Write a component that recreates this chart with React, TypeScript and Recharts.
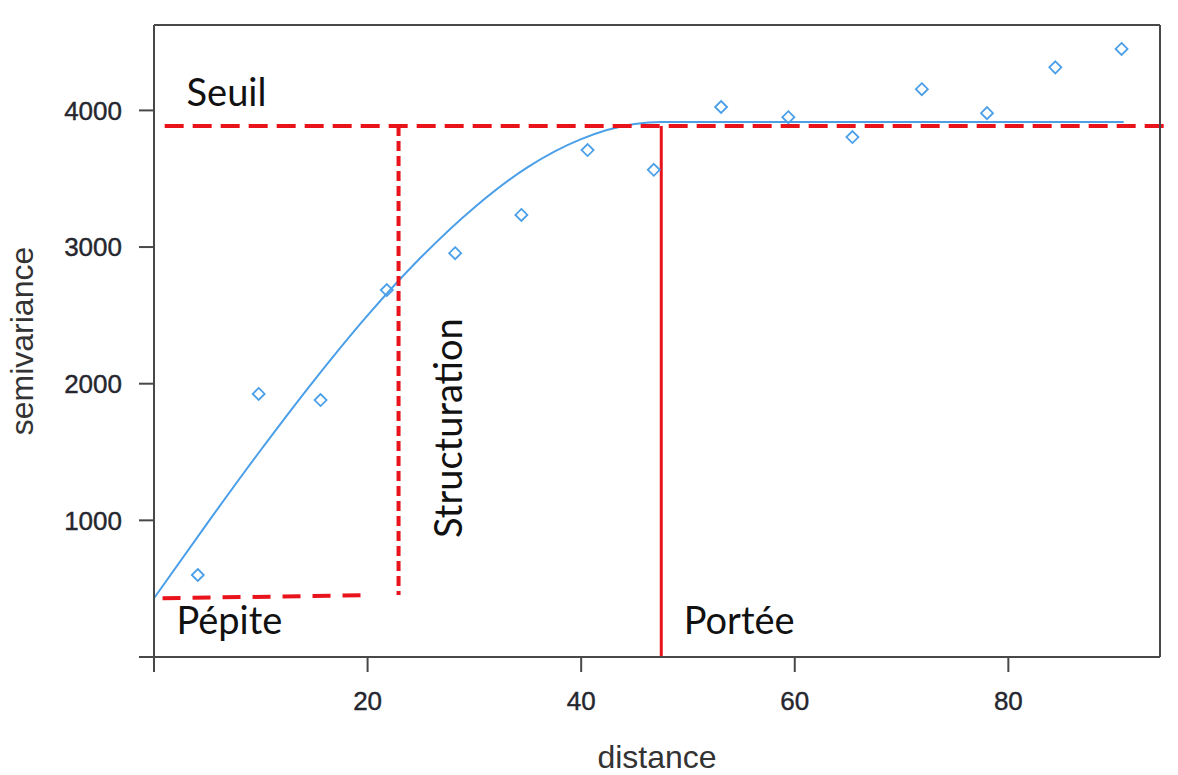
import React from 'react';
import { ComposedChart, Line, Scatter, XAxis, YAxis, ReferenceLine, ReferenceDot } from 'recharts';

// empirical semivariogram (diamonds)
const distances = [4.1, 9.8, 15.6, 21.8, 28.2, 34.4, 40.6, 46.8, 53.1, 59.4, 65.4, 71.9, 78.0, 84.4, 90.6];
const semivariances = [600, 1925, 1880, 2685, 2955, 3235, 3710, 3565, 4025, 3950, 3805, 4155, 3980, 4315, 4450];

// fitted model curve
const modelDistances = [0, 5, 10, 15, 20, 25, 30, 35, 40, 45, 47.5, 90.8];
const modelValues = [430, 980, 1515, 2025, 2500, 2925, 3290, 3585, 3790, 3900, 3915, 3915];

const xTicks = [0, 20, 40, 60, 80];
const yTicks = [0, 1000, 2000, 3000, 4000];

// annotation levels
const sill = 3885;
const nuggetStart = 430;
const nuggetEnd = 452;
const range = 47.5;
const structX = 22.9;

const annotations = [
  { text: 'Seuil', h: 3.05, v: 4030, rotate: false },
  { text: 'Pépite', h: 2.1, v: 170, rotate: false },
  { text: 'Portée', h: 49.6, v: 170, rotate: false },
  { text: 'Structuration', h: 28.8, v: 1675, rotate: true },
];

const points = distances.map((h, i) => ({ h, v: semivariances[i] }));
const curve = modelDistances.map((h, i) => ({ h, v: modelValues[i] }));

const BLUE = '#4a9fe8';
const RED = '#e8131b';
const AXIS = '#484848';
const tickStyle = {
  fontSize: 26,
  fill: '#26262e',
  stroke: '#26262e',
  strokeWidth: 0.4,
  fontFamily: '"Liberation Sans", Arial, sans-serif',
};

const Diamond = (props: any) => {
  const { cx, cy } = props;
  const r = 6;
  return (
    <path
      d={`M${cx},${cy - r}L${cx + r},${cy}L${cx},${cy + r}L${cx - r},${cy}Z`}
      fill="none"
      stroke={BLUE}
      strokeWidth={1.8}
    />
  );
};

const noZero = (v: number) => (v === 0 ? '' : String(v));

export default function App() {
  return (
    <div style={{ position: 'absolute', left: 0, top: 0, background: '#fff' }}>
      <ComposedChart width={1178} height={775} margin={{ top: 0, right: 0, bottom: 0, left: 0 }}>
        <XAxis
          xAxisId="b"
          type="number"
          dataKey="h"
          domain={[0, 94.2]}
          ticks={xTicks}
          tickFormatter={noZero}
          height={118}
          tickSize={15}
          tickMargin={20}
          tick={tickStyle}
          stroke={AXIS}
          strokeWidth={2}
          label={(p: any) => {
            const vb = p.viewBox;
            return (
              <text
                x={vb.x + vb.width / 2}
                y={vb.y + 111}
                textAnchor="middle"
                fontSize={32}
                fill="#333"
                fontFamily='"Liberation Sans", Arial, sans-serif'
              >
                distance
              </text>
            );
          }}
        />
        <XAxis
          xAxisId="t"
          orientation="top"
          type="number"
          dataKey="h"
          domain={[0, 94.2]}
          ticks={xTicks}
          height={25}
          tickSize={15}
          tick={false}
          stroke={AXIS}
          strokeWidth={2}
        />
        <YAxis
          yAxisId="l"
          type="number"
          domain={[0, 4625]}
          ticks={yTicks}
          tickFormatter={noZero}
          width={154}
          tickSize={15}
          tickMargin={17}
          tick={tickStyle}
          stroke={AXIS}
          strokeWidth={2}
          label={(p: any) => {
            const vb = p.viewBox;
            const x = 33;
            const y = vb.y + vb.height / 2;
            return (
              <text
                x={x}
                y={y}
                transform={`rotate(-90 ${x} ${y})`}
                textAnchor="middle"
                fontSize={32}
                fill="#333"
                fontFamily='"Liberation Sans", Arial, sans-serif'
              >
                semivariance
              </text>
            );
          }}
        />
        <YAxis
          yAxisId="r"
          orientation="right"
          type="number"
          domain={[0, 4625]}
          ticks={yTicks}
          width={18}
          tickSize={15}
          tick={false}
          stroke={AXIS}
          strokeWidth={2}
        />

        <Line
          xAxisId="b"
          yAxisId="l"
          data={curve}
          dataKey="v"
          type="monotone"
          stroke={BLUE}
          strokeWidth={2}
          dot={false}
          activeDot={false}
          isAnimationActive={false}
        />
        <Scatter
          xAxisId="b"
          yAxisId="l"
          data={points}
          dataKey="v"
          shape={Diamond}
          isAnimationActive={false}
        />

        <ReferenceLine
          xAxisId="b"
          yAxisId="l"
          segment={[{ x: 1.0, y: sill }, { x: 95.3, y: sill }]}
          stroke={RED}
          strokeWidth={4}
          strokeDasharray="19 9"
          ifOverflow="visible"
        />
        <ReferenceLine
          xAxisId="b"
          yAxisId="l"
          segment={[{ x: structX, y: sill }, { x: structX, y: 454 }]}
          stroke={RED}
          strokeWidth={4}
          strokeDasharray="10 5"
          ifOverflow="visible"
        />
        <ReferenceLine
          xAxisId="b"
          yAxisId="l"
          segment={[{ x: 0.8, y: nuggetStart }, { x: 19.9, y: nuggetEnd }]}
          stroke={RED}
          strokeWidth={4}
          strokeDasharray="18 12"
          ifOverflow="visible"
        />
        <ReferenceLine
          xAxisId="b"
          yAxisId="l"
          segment={[{ x: range, y: sill }, { x: range, y: 0 }]}
          stroke={RED}
          strokeWidth={3}
          ifOverflow="visible"
        />

        {annotations.map((a) => (
          <ReferenceDot
            key={a.text}
            xAxisId="b"
            yAxisId="l"
            x={a.h}
            y={a.v}
            r={0}
            fill="none"
            stroke="none"
            ifOverflow="visible"
            label={(p: any) => {
              const vb = p.viewBox;
              return (
                <text
                  x={vb.x}
                  y={vb.y}
                  transform={a.rotate ? `rotate(-90 ${vb.x} ${vb.y})` : undefined}
                  textAnchor={a.rotate ? 'middle' : 'start'}
                  fontSize={38}
                  fill="#111"
                  fontFamily="Lato, 'Open Sans', sans-serif"
                >
                  {a.text}
                </text>
              );
            }}
          />
        ))}
      </ComposedChart>
    </div>
  );
}
